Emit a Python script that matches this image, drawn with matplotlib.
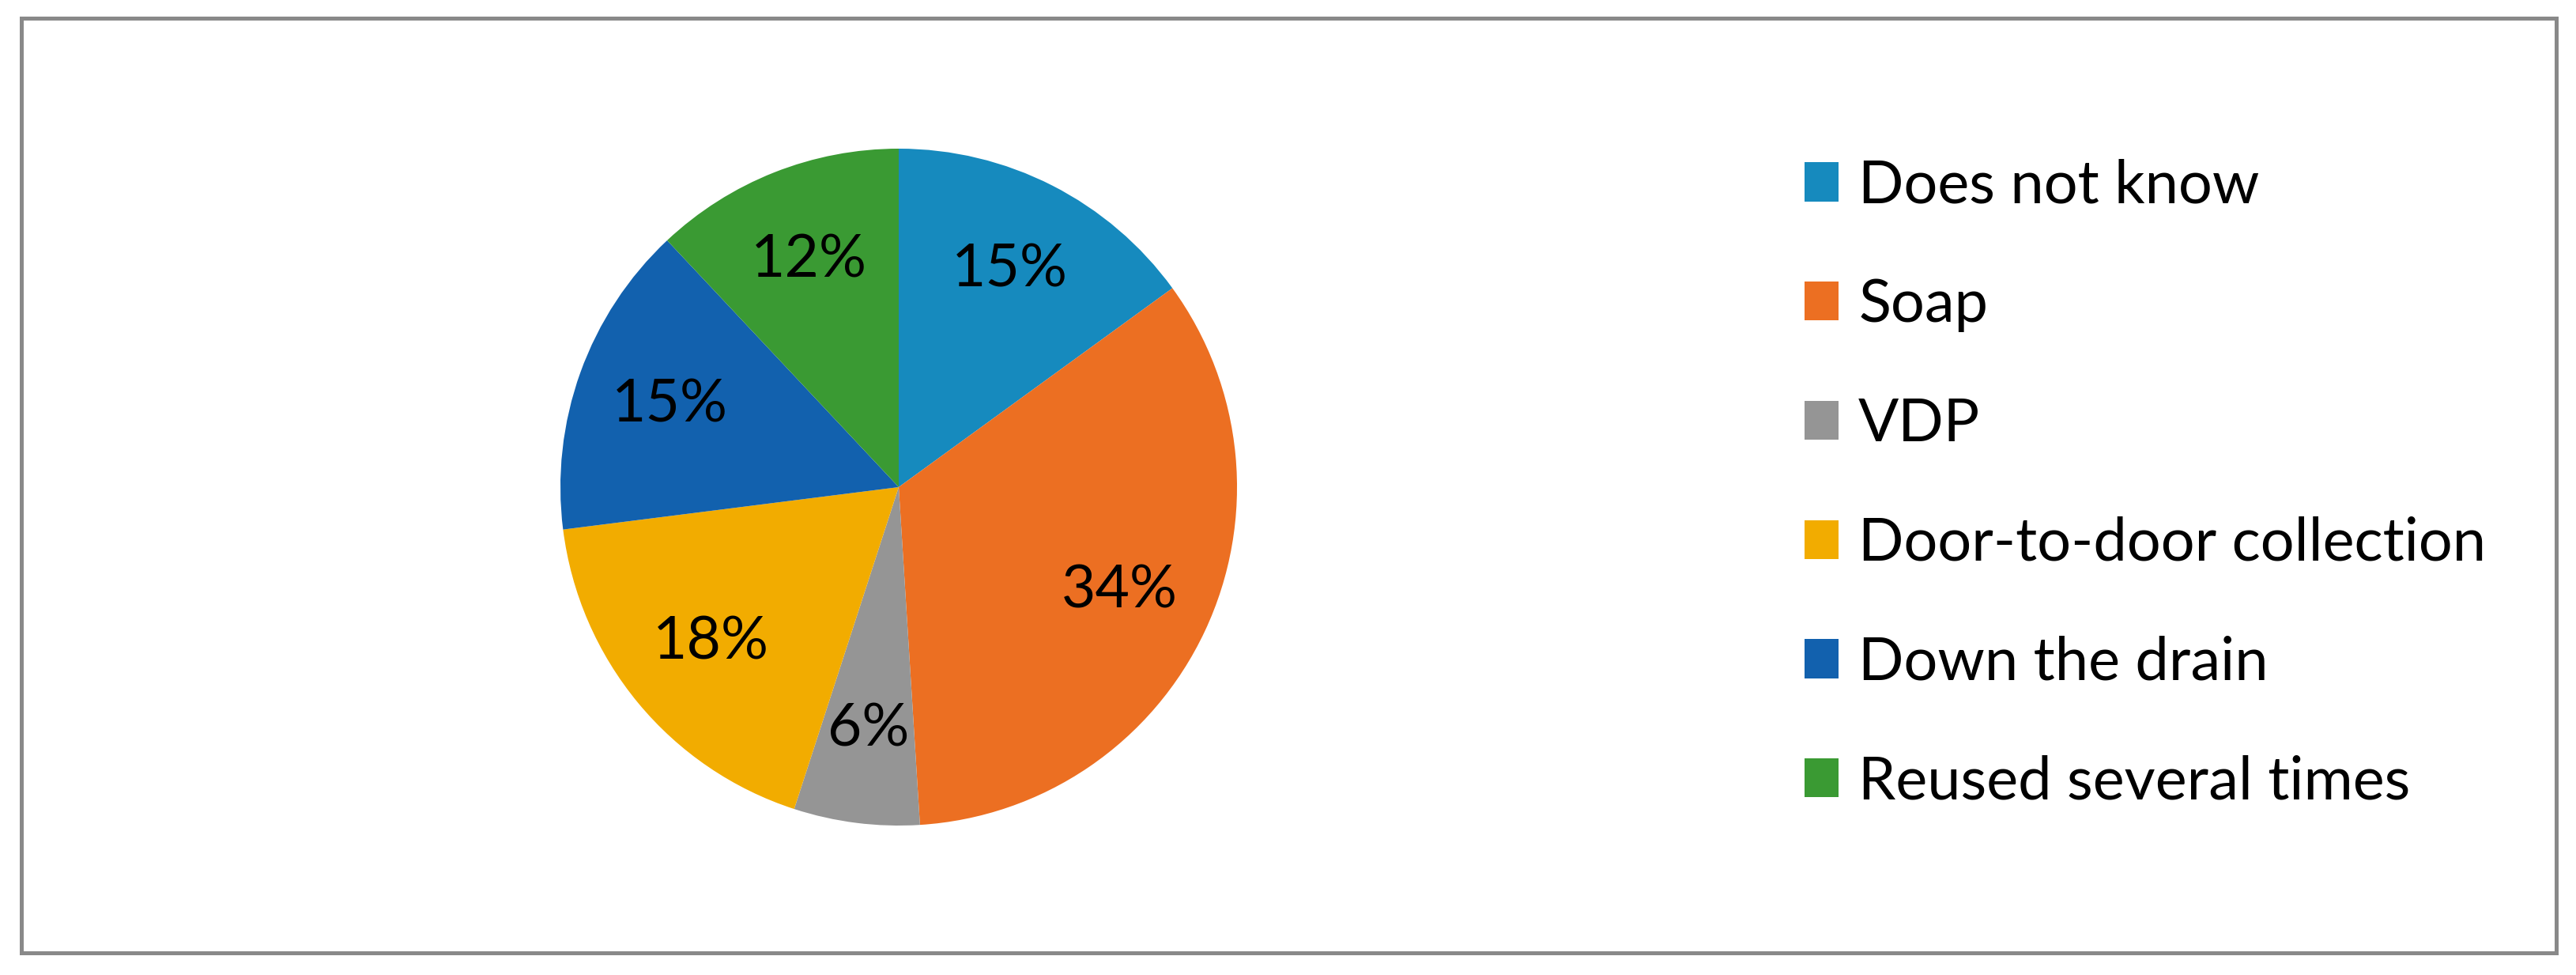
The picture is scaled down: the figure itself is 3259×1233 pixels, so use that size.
import matplotlib
matplotlib.use("Agg")
import matplotlib.pyplot as plt
from matplotlib.patches import Rectangle, Patch

categories = ["Does not know", "Soap", "VDP", "Door-to-door collection",
              "Down the drain", "Reused several times"]
values = [15, 34, 6, 18, 15, 12]
colors = ["#168ABE", "#EC6F22", "#959595", "#F2AC00", "#1261AE", "#3A9A33"]

W, H = 3259, 1233
DPI = 100
plt.rcParams['font.family'] = ['Lato', 'DejaVu Sans']
fig = plt.figure(figsize=(W / DPI, H / DPI), dpi=DPI)

# pie axes: center (1137, 616) px, radius 428 px
cx, cy, r = 1137, 616, 428
ax = fig.add_axes([(cx - r) / W, (H - cy - r) / H, 2 * r / W, 2 * r / H])
wedges, texts, autotexts = ax.pie(
    values, colors=colors, startangle=90, counterclock=False,
    autopct=lambda p: f"{p:.0f}%", pctdistance=0.72, radius=1,
    textprops=dict(fontsize=54, color="black"))
ax.set_xlim(-1, 1)
ax.set_ylim(-1, 1)
ax.set_aspect("equal")
ax.axis("off")

handles = [Patch(facecolor=c, edgecolor="none") for c in colors]
leg = fig.legend(handles, categories, loc="center left",
                 bbox_to_anchor=(2283 / W, 1 - 612 / H),
                 frameon=False, fontsize=54.5, borderpad=0, borderaxespad=0,
                 handlelength=0.57, handleheight=0.62, handletextpad=0.33,
                 labelspacing=1.08)

fig.patches.append(Rectangle((27 / W, 1 - 1205 / H), (3234 - 27) / W,
                             (1205 - 23) / H, transform=fig.transFigure,
                             fill=False, edgecolor="#898989", linewidth=3.6))

fig.savefig("out.png", dpi=DPI, facecolor="white")
